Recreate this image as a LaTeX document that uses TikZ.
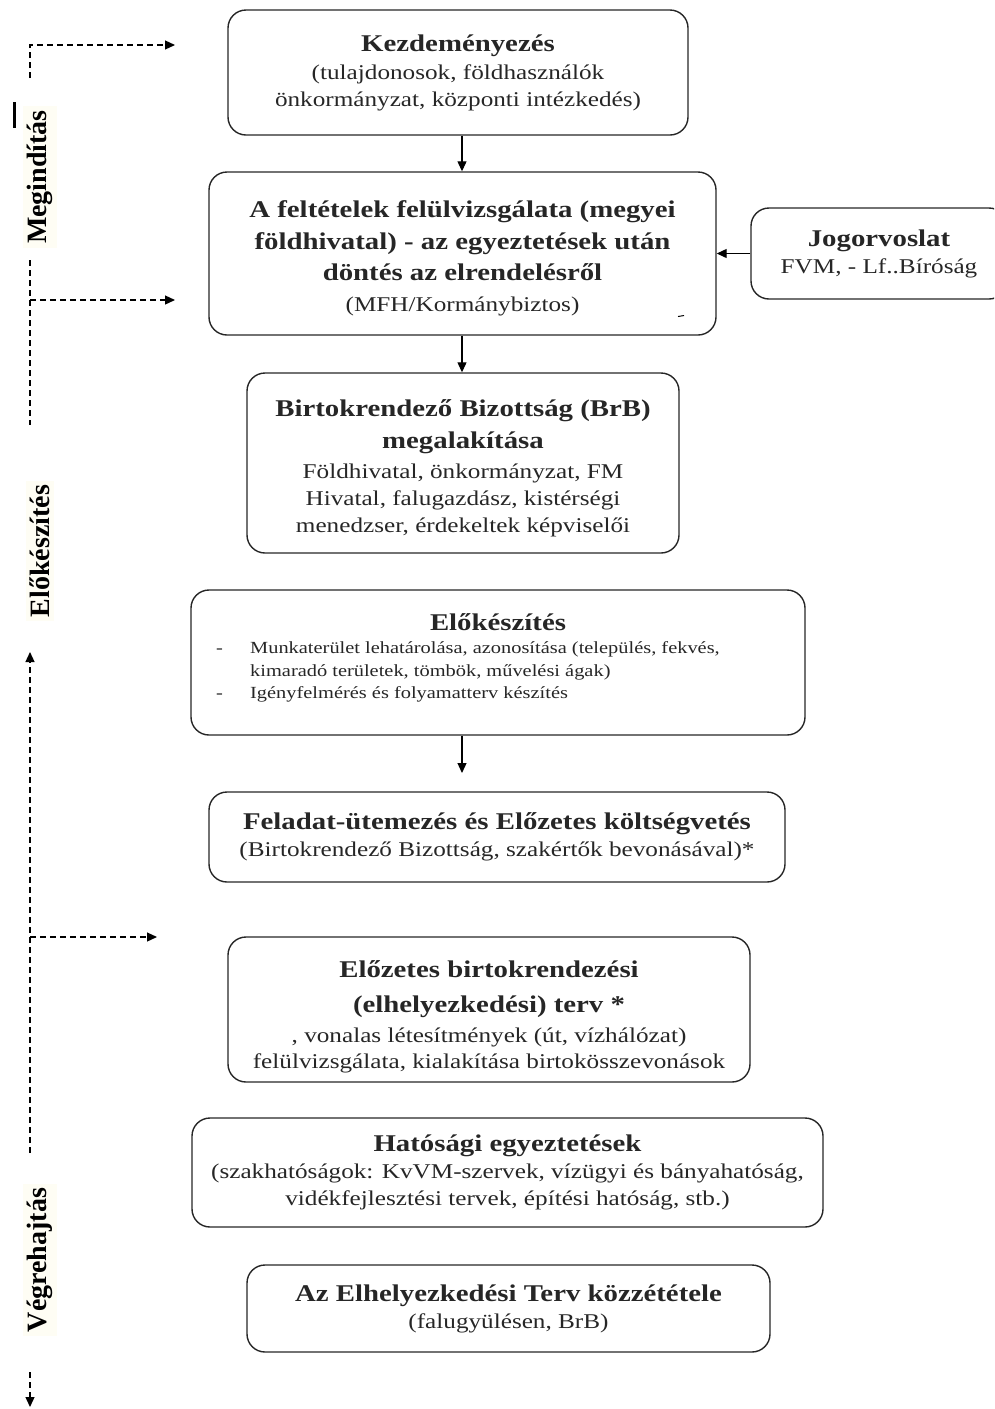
\documentclass[tikz,border=0pt]{standalone}
\usepackage{fontspec}
\setmainfont{Liberation Serif}[FakeStretch=1.2]
\newfontfamily\sidefont{Liberation Serif}
\usetikzlibrary{arrows.meta}
\definecolor{labbg}{RGB}{254,253,244}
\newcommand\mytitle{\fontsize{24}{31}\selectfont\bfseries}
\newcommand\mybody{\fontsize{21}{27}\selectfont}
\newcommand\mysmall{\fontsize{17}{22.5}\selectfont}
\tikzset{
  box/.style={draw=black!85, line width=1.4pt, rounded corners=18pt, align=center,
    inner sep=0pt, font=\mybody, text=black!85},
  txt/.style={align=center, inner sep=0pt, font=\mybody, text=black!85},
  arr/.style={line width=1.2pt, -{Triangle[length=10pt,width=9pt]}},
  darr/.style={line width=1.2pt, dash pattern=on 6pt off 4pt, -{Triangle[length=10pt,width=9pt]}},
  dline/.style={line width=1.2pt, dash pattern=on 6pt off 4pt},
  side/.style={font=\sidefont\fontsize{28}{30}\selectfont\bfseries, rotate=90,
    fill=labbg, inner sep=4pt, text=black},
}
\begin{document}
\begin{tikzpicture}[x=1pt,y=-1pt]
\useasboundingbox (0,0) rectangle (994,1409);
\clip (0,0) rectangle (994,1409);

% boxes
\node[box, minimum width=460pt, minimum height=125pt] (b1) at (458,72.5)
  {{\mytitle Kezdeményezés}\\[1pt](tulajdonosok, földhasználók\\önkormányzat, központi intézkedés)};
\node[box, minimum width=507pt, minimum height=163pt] (b2) at (462.5,253.5)
  {{\mytitle\rule{0pt}{26pt}A feltételek felülvizsgálata (megyei}\\[5pt]{\mytitle földhivatal) - az egyeztetések után}\\[4pt]{\mytitle döntés az elrendelésről}\\[4pt](MFH/Kormánybiztos)};
\node[box, minimum width=256pt, minimum height=91pt] (jog) at (879,253.5)
  {{\mytitle Jogorvoslat}\\FVM, - Lf..Bíróság};
\node[box, minimum width=432pt, minimum height=180pt] (b4) at (463,463)
  {{\mytitle\rule{0pt}{28pt}Birtokrendező Bizottság (BrB)}\\[5pt]{\mytitle megalakítása}\\[3pt]Földhivatal, önkormányzat, FM\\Hivatal, falugazdász, kistérségi\\menedzser, érdekeltek képviselői};
\node[box, minimum width=614pt, minimum height=145pt] (b5) at (498,662.5) {};
\node[txt] (b5t) at (498,622) {\mytitle Előkészítés};
\node[txt, anchor=north west, align=left, font=\mysmall] (b5l) at (216,638)
  {\begin{tabular}{@{}p{34pt}@{}l@{}}
   -&Munkaterület lehatárolása, azonosítása (település, fekvés,\\
    &kimaradó területek, tömbök, művelési ágak)\\
   -&Igényfelmérés és folyamatterv készítés
   \end{tabular}};
\node[box, minimum width=576pt, minimum height=90pt] (b6) at (497,837)
  {{\mytitle Feladat-ütemezés és Előzetes költségvetés}\\(Birtokrendező Bizottság, szakértők bevonásával)*};
\node[box, minimum width=522pt, minimum height=145pt] (b7) at (489,1009.5)
  {{\mytitle\rule{0pt}{32pt}Előzetes birtokrendezési}\\[8pt]{\mytitle (elhelyezkedési) terv *}\\[3pt], vonalas létesítmények (út, vízhálózat)\\[-1pt]felülvizsgálata, kialakítása birtokösszevonások};
\node[box, minimum width=631pt, minimum height=109pt] (b8) at (507.5,1172.5)
  {{\mytitle Hatósági egyeztetések}\\(szakhatóságok: KvVM-szervek, vízügyi és bányahatóság,\\vidékfejlesztési tervek, építési hatóság, stb.)};
\node[box, minimum width=523pt, minimum height=87pt] (b9) at (508.5,1308.5)
  {{\mytitle Az Elhelyezkedési Terv közzététele}\\(falugyülésen, BrB)};

% stray mark in box 2
\draw[line width=1pt] (678,316.5) -- (684,315.5);

% main arrows
\coordinate (mx) at (462,0);
\draw[arr] (mx |- b1.south) -- (mx |- b2.north);
\draw[arr] (mx |- b2.south) -- (mx |- b4.north);
\coordinate (a5e) at (462,773);
\draw[arr] (mx |- b5.south) -- (a5e);
\draw[arr] (jog.west) -- (jog.west -| b2.east);

% side labels
\node[side] (lab1) at (40,177) {Megindítás};
\node[side] (lab2) at (40,551) {Előkészítés};
\node[side] (lab3) at (40,1260) {Végrehajtás};
\draw[line width=3pt] (14,102) -- (14,128);

% dashed side connectors
\coordinate (d1a) at (30,78);
\coordinate (d1b) at (30,45);
\coordinate (d1c) at (175,45);
\draw[darr] (d1a) -- (d1b) -- (d1c);
\coordinate (d2a) at (30,260);
\coordinate (d2b) at (30,425);
\draw[dline] (d2a) -- (d2b);
\coordinate (d2c) at (30,300);
\coordinate (d2d) at (175,300);
\draw[darr] (d2c) -- (d2d);
\coordinate (d3a) at (30,1153);
\coordinate (d3b) at (30,652);
\draw[darr] (d3a) -- (d3b);
\coordinate (d3c) at (30,937);
\coordinate (d3d) at (157,937);
\draw[darr] (d3c) -- (d3d);
\coordinate (d4a) at (30,1372);
\coordinate (d4b) at (30,1407);
\draw[darr] (d4a) -- (d4b);
\end{tikzpicture}
\end{document}
